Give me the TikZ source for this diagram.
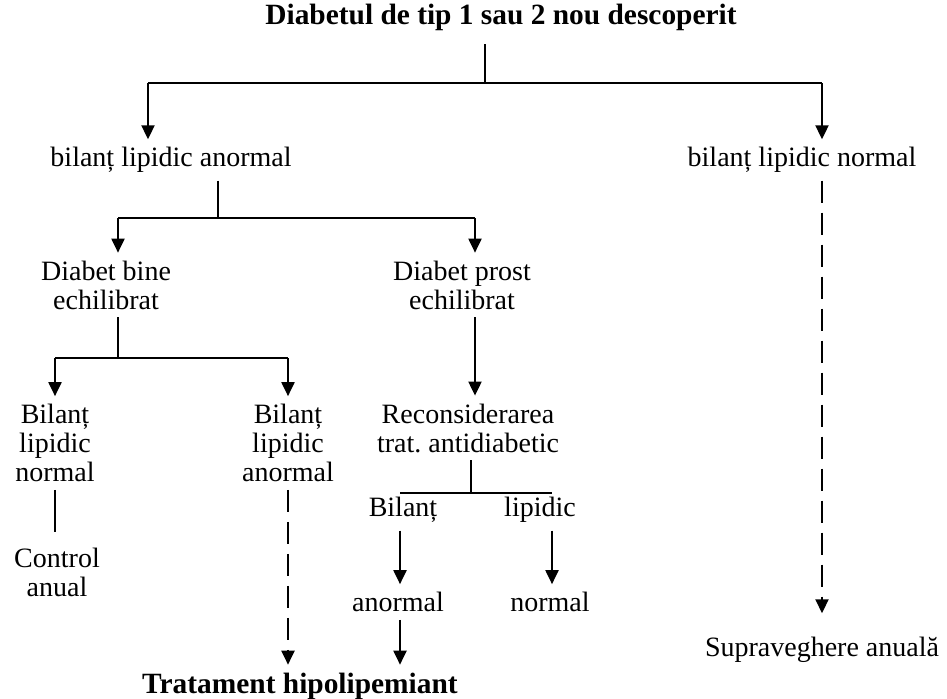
\documentclass[tikz,border=0pt]{standalone}
\usepackage{fontspec}
\setmainfont{Liberation Serif}
\usetikzlibrary{arrows.meta}

\begin{document}
\begin{tikzpicture}[x=0.5pt,y=-0.5pt,
    txt/.style={inner sep=0pt,outer sep=4pt,align=center,font=\fontsize{14}{14.5}\selectfont\frenchspacing},
    hd/.style={txt,font=\fontsize{14.7}{15}\selectfont\bfseries},
    ln/.style={line width=1pt},
    ar/.style={ln,-{Triangle[width=6.5pt,length=7pt]}},
    da/.style={ar,dash pattern=on 11pt off 5pt}]
  \useasboundingbox (0,0) rectangle (947,698);

  % texts
  \node[hd]  (title)  at (501,17)  {Diabetul de tip 1 sau 2 nou descoperit};
  \node[txt] (anorm)  at (171,160) {bilanț lipidic anormal};
  \node[txt] (norm)   at (802,160) {bilanț lipidic normal};
  \node[txt] (bine)   at (106,285) {Diabet bine\\echilibrat};
  \node[txt] (prost)  at (462,285) {Diabet prost\\echilibrat};
  \node[txt] (bnorm)  at (55,443)  {Bilanț\\lipidic\\normal};
  \node[txt] (banorm) at (288,443) {Bilanț\\lipidic\\anormal};
  \node[txt] (recon)  at (468,428) {Reconsiderarea\\trat. antidiabetic};
  \node[txt] (bil)    at (403,510) {Bilanț};
  \node[txt] (lip)    at (540,510) {lipidic};
  \node[txt] (ranorm) at (398,602) {anormal};
  \node[txt] (rnorm)  at (550,602) {normal};
  \node[txt] (ctrl)   at (57,572)  {Control\\anual};
  \node[txt] (sup)    at (822,650) {Supraveghere anuală};
  \node[hd]  (trat)   at (300,686) {Tratament hipolipemiant};

  % branch points
  \coordinate (j0) at (485,83);  \coordinate (l1) at (148,83);  \coordinate (r1) at (822,83);
  \coordinate (j1) at (218,218); \coordinate (l2) at (118,218); \coordinate (r2) at (475,218);
  \coordinate (j2) at (118,358); \coordinate (l4) at (55,358);  \coordinate (r4) at (288,358);
  \coordinate (j3) at (471,493); \coordinate (l3) at (400,493); \coordinate (r3) at (552,493);

  % bars
  \draw[ln] ([yshift=-3pt]title.south -| j0) -- (j0);
  \draw[ln] (l1) -- (r1);
  \draw[ln] (anorm.south -| j1) -- (j1);
  \draw[ln] (l2) -- (r2);
  \draw[ln] (bine.south -| j2) -- (j2);
  \draw[ln] (l4) -- (r4);
  \draw[ln] (recon.south -| j3) -- (j3);
  \draw[ln] (l3) -- (r3);
  \draw[ln] (bnorm.south -| l4) -- ([yshift=4pt]l4 |- ctrl.north);

  % arrows
  \foreach \c/\n in {l1/anorm, r1/norm, l2/bine, r2/prost, l4/bnorm, r4/banorm}
    \draw[ar] (\c) -- (\c |- \n.north);
  \draw[ar] (prost.south -| r2) -- (r2 |- recon.north);
  \draw[ar] (bil.south -| l3) -- (l3 |- ranorm.north);
  \draw[ar] (lip.south -| r3) -- (r3 |- rnorm.north);
  \draw[ar] (ranorm.south -| l3) -- (l3 |- trat.north);
  \draw[da] (banorm.south -| r4) -- (r4 |- trat.north);
  \draw[da] (norm.south -| r1) -- ([yshift=8pt]r1 |- sup.north);
\end{tikzpicture}
\end{document}
